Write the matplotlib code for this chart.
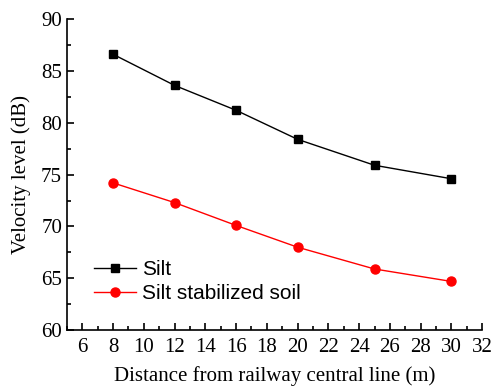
import matplotlib.pyplot as plt
from matplotlib.ticker import MultipleLocator

distance = [8, 12, 16, 20, 25, 30]
silt = [86.6, 83.6, 81.2, 78.4, 75.9, 74.6]
silt_stabilized = [74.2, 72.3, 70.1, 68.0, 65.9, 64.7]

fig = plt.figure(figsize=(4.92, 3.88), dpi=100)
ax = fig.add_axes([0.136, 0.149, 0.844, 0.802])

ax.plot(distance, silt, color='black', marker='s', markersize=6, linewidth=1, label='Silt')
ax.plot(distance, silt_stabilized, color='red', marker='o', markersize=6.5, linewidth=1,
        label='Silt stabilized soil')

ax.set_xlim(5, 32)
ax.set_ylim(60, 90)
ax.xaxis.set_major_locator(MultipleLocator(2))
ax.xaxis.set_minor_locator(MultipleLocator(1))
ax.yaxis.set_major_locator(MultipleLocator(5))
ax.yaxis.set_minor_locator(MultipleLocator(2.5))
ax.set_xticks(range(6, 33, 2))

for s in ['top', 'right']:
    ax.spines[s].set_visible(False)
for s in ['left', 'bottom']:
    ax.spines[s].set_linewidth(1.2)

ax.tick_params(which='major', direction='in', length=5, width=1.2,
               labelsize=15, labelfontfamily='Liberation Serif')
ax.tick_params(axis='x', which='major', pad=5.5)
ax.tick_params(which='minor', direction='in', length=3, width=1.2)

ax.set_xlabel('Distance from railway central line (m)', fontsize=15, family='Liberation Serif',
              labelpad=6.5)
ax.set_ylabel('Velocity level (dB)', fontsize=15, family='Liberation Serif', labelpad=7)

ax.legend(loc='upper left', bbox_to_anchor=(0.065, 0.225), frameon=False,
          prop={'family': 'Liberation Sans', 'size': 15}, handlelength=2.0,
          handletextpad=0.33, labelspacing=0.25, borderaxespad=0, borderpad=0)

fig.savefig('out.png', dpi=100)
